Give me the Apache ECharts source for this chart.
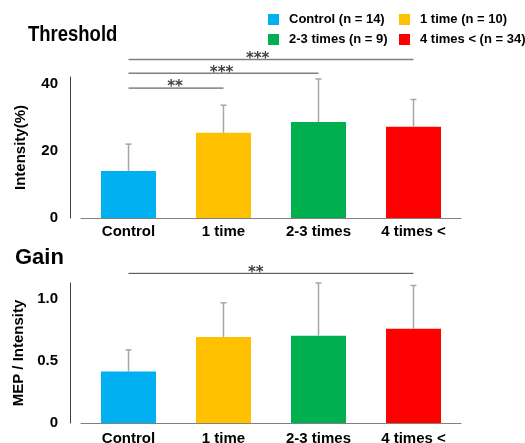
<!DOCTYPE html>
<html><head><meta charset="utf-8">
<script src="https://cdn.jsdelivr.net/npm/echarts@6/dist/echarts.min.js"></script>
<style>html,body{margin:0;padding:0;background:#fff}#c{width:525px;height:443px}</style>
</head><body><div id="c"></div>
<script>
const categories = ['Control', '1 time', '2-3 times', '4 times <'];
const legendNames = ['Control (n = 14)', '1 time (n = 10)', '2-3 times (n = 9)', '4 times < (n = 34)'];
const colors = ['#00B0F0', '#FFC000', '#00B050', '#FF0000'];
const thresholdMean = [14.0, 25.4, 28.6, 27.2];
const thresholdErr = [22.0, 33.6, 41.4, 35.3];
const gainMean = [0.415, 0.695, 0.705, 0.76];
const gainErr = [0.59, 0.97, 1.13, 1.11];
// significance: [fromIndex, toIndex, yValue, label]
const thresholdSig = [[0, 3, 47.2, '***'], [0, 2, 43.1, '***'], [0, 1, 38.7, '**']];
const gainSig = [[0, 3, 1.208, '**']];
const thresholdTicks = [0, 20, 40];
const gainTicks = [0, 0.5, 1.0];

const FONT = 'Liberation Sans, Arial, sans-serif';
// horizontal placement of the star labels, in category units
const sigTextX = [[1.36, 0.98, 0.49], [1.34]];
const sigStyle = [
  [{ c: '#7f7f7f', w: 1.5 }, { c: '#7f7f7f', w: 1.5 }, { c: '#404040', w: 1 }],
  [{ c: '#404040', w: 1 }]
];

function barSeries(means, gi) {
  return categories.map((c, i) => ({
    type: 'bar', name: legendNames[i], xAxisIndex: gi, yAxisIndex: gi,
    stack: 'g' + gi, barWidth: 55,
    itemStyle: { color: colors[i] },
    data: means.map((v, j) => (j === i ? v : '-'))
  }));
}
function errSeries(means, errs, gi) {
  return {
    type: 'custom', xAxisIndex: gi, yAxisIndex: gi, z: 5, clip: false,
    data: means.map((m, i) => [i, m, errs[i]]),
    renderItem: function (params, api) {
      const p0 = api.coord([api.value(0), api.value(1)]);
      const p1 = api.coord([api.value(0), api.value(2)]);
      const st = { stroke: '#a6a6a6', lineWidth: 1.5 };
      return { type: 'group', children: [
        { type: 'line', shape: { x1: p0[0], y1: p0[1], x2: p1[0], y2: p1[1] }, style: st },
        { type: 'line', shape: { x1: p1[0] - 3, y1: p1[1], x2: p1[0] + 3, y2: p1[1] }, style: st }
      ] };
    }
  };
}
function sigSeries(sig, gi) {
  return {
    type: 'custom', xAxisIndex: gi, yAxisIndex: gi, z: 6, clip: false,
    data: sig.map(s => [s[0], s[1], s[2]]),
    renderItem: function (params, api) {
      const s = sig[params.dataIndex];
      const a = api.coord([s[0], s[2]]);
      const b = api.coord([s[1], s[2]]);
      const c0 = api.coord([0, s[2]])[0], c1 = api.coord([1, s[2]])[0];
      const tx = c0 + (c1 - c0) * sigTextX[gi][params.dataIndex];
      const ls = sigStyle[gi][params.dataIndex];
      return { type: 'group', children: [
        { type: 'line', shape: { x1: a[0], y1: a[1], x2: b[0], y2: b[1] }, style: { stroke: ls.c, lineWidth: ls.w } },
        { type: 'text', x: tx, y: a[1] - 0.5, style: { text: s[3], fill: '#404040', font: 'bold 15px DejaVu Sans', textAlign: 'center', textVerticalAlign: 'middle' } }
      ] };
    }
  };
}
function xAx(gi, margin) {
  return {
    type: 'category', gridIndex: gi, data: categories,
    axisLine: { lineStyle: { color: '#808080', width: 1 } },
    axisTick: { show: false },
    axisLabel: { fontFamily: FONT, fontWeight: 'bold', fontSize: 15, color: '#000', margin: margin }
  };
}
function yAx(gi, max, interval, name, gap, fmt) {
  return {
    type: 'value', gridIndex: gi, min: 0, max: max, interval: interval, offset: 11,
    name: name, nameLocation: 'middle', nameGap: gap,
    nameTextStyle: { fontFamily: FONT, fontWeight: 'bold', fontSize: 15, color: '#000' },
    axisLine: { show: true, lineStyle: { color: '#404040', width: 1 } },
    axisTick: { show: false }, splitLine: { show: false },
    axisLabel: { fontFamily: FONT, fontWeight: 'bold', fontSize: 15, color: '#000', margin: 12,
      formatter: fmt, showMaxLabel: false }
  };
}
const legendPos = [[268, 13], [399, 13], [268, 33], [399, 33]];
const chart = echarts.init(document.getElementById('c'));
chart.setOption({
  animation: false,
  backgroundColor: '#fff',
  graphic: [
    { type: 'text', x: 28, y: 35, scaleX: 0.88, scaleY: 1.08, style: { text: 'Threshold', font: 'bold 21px ' + FONT, fill: '#000', textVerticalAlign: 'middle' } },
    { type: 'text', x: 15, y: 258, style: { text: 'Gain', font: 'bold 22px ' + FONT, fill: '#000', textVerticalAlign: 'middle' } }
  ],
  legend: legendNames.map((n, i) => ({
    data: [n], left: legendPos[i][0], top: legendPos[i][1], padding: 0,
    itemWidth: 11, itemHeight: 11, icon: 'rect', selectedMode: false,
    textStyle: { fontFamily: FONT, fontWeight: 'bold', fontSize: 13, color: '#000', padding: [0, 0, 0, 5] }
  })),
  grid: [
    { left: 81, right: 64, top: 77, bottom: 225, outerBoundsMode: 'none', containLabel: false },
    { left: 81, right: 64, top: 283, bottom: 20, outerBoundsMode: 'none', containLabel: false }
  ],
  xAxis: [xAx(0, 6), xAx(1, 8)],
  yAxis: [
    yAx(0, 42, 20, 'Intensity(%)', 42, v => (thresholdTicks.indexOf(v) >= 0 ? String(v) : '')),
    yAx(1, 1.13, 0.5, 'MEP / Intensity', 36, v => (v === 0 ? '0' : v.toFixed(1)))
  ],
  series: [].concat(
    barSeries(thresholdMean, 0), barSeries(gainMean, 1),
    [errSeries(thresholdMean, thresholdErr, 0), errSeries(gainMean, gainErr, 1),
     sigSeries(thresholdSig, 0), sigSeries(gainSig, 1)]
  )
});
</script></body></html>
